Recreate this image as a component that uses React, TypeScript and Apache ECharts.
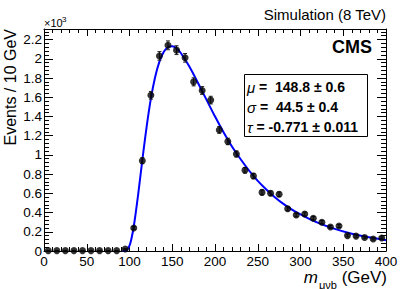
import React, { useEffect, useRef } from 'react';
import * as echarts from 'echarts';

// bin centres (GeV) and events per bin (x10^3)
const binCenters = [5, 15, 25, 35, 45, 55, 65, 75, 85, 95, 105, 115, 125, 135, 145, 155, 165, 175, 185, 195, 205, 215, 225, 235, 245, 255, 265, 275, 285, 295, 305, 315, 325, 335, 345, 355, 365, 375, 385, 395];
const eventsK = [0.004, 0.004, 0.004, 0.004, 0.004, 0.004, 0.004, 0.004, 0.004, 0.02, 0.24, 0.94, 1.62, 2.03, 2.14, 2.09, 2.01, 1.76, 1.67, 1.57, 1.26, 1.14, 1.01, 0.84, 0.78, 0.61, 0.60, 0.59, 0.44, 0.375, 0.385, 0.34, 0.30, 0.25, 0.26, 0.16, 0.155, 0.14, 0.125, 0.135];
const eventsErrK = [0.002, 0.002, 0.002, 0.002, 0.002, 0.002, 0.002, 0.002, 0.002, 0.005, 0.015, 0.031, 0.040, 0.045, 0.046, 0.046, 0.045, 0.042, 0.041, 0.040, 0.035, 0.034, 0.032, 0.029, 0.028, 0.025, 0.024, 0.024, 0.021, 0.019, 0.020, 0.018, 0.017, 0.016, 0.016, 0.013, 0.012, 0.012, 0.011, 0.012];

// fitted curve
const fitX = [92, 95, 97, 100, 102, 105, 110, 115, 120, 125, 130, 135, 140, 145, 150, 155, 160, 170, 180, 190, 200, 210, 220, 230, 240, 250, 260, 270, 280, 290, 300, 320, 340, 360, 380, 400];
const fitY = [0, 0.002, 0.01, 0.055, 0.118, 0.255, 0.58, 0.945, 1.29, 1.585, 1.81, 1.97, 2.07, 2.12, 2.13, 2.11, 2.06, 1.92, 1.75, 1.575, 1.40, 1.235, 1.085, 0.955, 0.835, 0.73, 0.64, 0.56, 0.49, 0.43, 0.38, 0.295, 0.23, 0.18, 0.142, 0.113];

const fitRows = [
  { sym: 'μ', text: ' =  148.8 ± 0.6' },
  { sym: 'σ', text: ' =  44.5 ± 0.4' },
  { sym: 'τ', text: ' = -0.771 ± 0.011' },
];

const FONT = '"Liberation Sans", Arial, Helvetica, sans-serif';

export default function App() {
  const ref = useRef<HTMLDivElement>(null);
  useEffect(() => {
    document.body.style.margin = '0';
    const chart = echarts.init(ref.current!, null, { renderer: 'svg' });

    const xBase = {
      type: 'value' as const,
      min: 0,
      max: 400,
      interval: 50,
      axisLine: { show: true, onZero: false, lineStyle: { color: '#000', width: 1 } },
      axisTick: { show: true, inside: true, length: 7, lineStyle: { color: '#000' } },
      minorTick: { show: true, splitNumber: 5, length: 4, lineStyle: { color: '#000' } },
      splitLine: { show: false },
    };
    const yBase = {
      type: 'value' as const,
      min: 0,
      max: 2.31,
      interval: 0.2,
      axisLine: { show: true, onZero: false, lineStyle: { color: '#000', width: 1 } },
      axisTick: { show: true, inside: true, length: 9, lineStyle: { color: '#000' } },
      minorTick: { show: true, splitNumber: 5, length: 5, lineStyle: { color: '#000' } },
      splitLine: { show: false },
    };

    const graphics: any[] = [
      {
        type: 'text', x: 44, y: 28,
        style: { text: '×10', fontSize: 11, fontFamily: FONT, fill: '#000', align: 'left', verticalAlign: 'bottom', textAlign: 'left', textVerticalAlign: 'bottom' },
      },
      {
        type: 'text', x: 62, y: 23,
        style: { text: '3', fontSize: 8, fontFamily: FONT, fill: '#000', align: 'left', verticalAlign: 'bottom', textAlign: 'left', textVerticalAlign: 'bottom' },
      },
      {
        type: 'text', x: 10, y: 29, rotation: Math.PI / 2,
        style: { text: 'Events / 10 GeV', fontSize: 16, fontFamily: FONT, fill: '#000', align: 'right', verticalAlign: 'middle', textAlign: 'right', textVerticalAlign: 'middle' },
      },
      {
        type: 'text', x: 387, y: 277,
        style: {
          text: '{m|m}{s|μνb}{n| (GeV)}', fontFamily: FONT, fill: '#000', align: 'right', verticalAlign: 'middle', textAlign: 'right', textVerticalAlign: 'middle',
          rich: {
            m: { fontSize: 17, fontStyle: 'italic', fontFamily: FONT, fill: '#000', verticalAlign: 'bottom', lineHeight: 18 },
            s: { fontSize: 11, fontFamily: FONT, fill: '#000', verticalAlign: 'bottom', padding: [0, 0, -4, 1], lineHeight: 18 },
            n: { fontSize: 17, fontFamily: FONT, fill: '#000', verticalAlign: 'bottom', lineHeight: 18 },
          },
        },
      },
      {
        type: 'text', x: 386, y: 14,
        style: { text: 'Simulation (8 TeV)', fontSize: 15, fontFamily: FONT, fill: '#000', align: 'right', verticalAlign: 'middle', textAlign: 'right', textVerticalAlign: 'middle' },
      },
      {
        type: 'text', x: 372, y: 47,
        style: { text: 'CMS', fontSize: 18, fontWeight: 'bold', fontFamily: FONT, fill: '#000', align: 'right', verticalAlign: 'middle', textAlign: 'right', textVerticalAlign: 'middle' },
      },
      {
        type: 'rect', shape: { x: 244.5, y: 74.5, width: 123, height: 62 },
        style: { fill: '#fff', stroke: '#000', lineWidth: 1 },
      },
    ];
    fitRows.forEach((r, i) => {
      graphics.push({
        type: 'text', x: 247, y: 87 + i * 20,
        style: {
          text: `{i|${r.sym}}{b|${r.text}}`, fontFamily: FONT, fill: '#000', align: 'left', verticalAlign: 'middle', textAlign: 'left', textVerticalAlign: 'middle',
          rich: {
            i: { fontSize: 15, fontStyle: 'italic', fontFamily: FONT, fill: '#000' },
            b: { fontSize: 14, fontWeight: 'bold', fontFamily: FONT, fill: '#000' },
          },
        },
      });
    });

    chart.setOption({
      animation: false,
      backgroundColor: '#fff',
      grid: { left: 44, right: 21, top: 29, bottom: 38, containLabel: false },
      xAxis: [
        { ...xBase, position: 'bottom', axisLabel: { show: true, fontSize: 13.5, fontFamily: FONT, color: '#000', margin: 3 } },
        { ...xBase, position: 'top', axisLabel: { show: false } },
      ],
      yAxis: [
        {
          ...yBase, position: 'left',
          axisLabel: {
            show: true, fontSize: 13.5, fontFamily: FONT, color: '#000', margin: 2, showMaxLabel: false,
            formatter: (v: number) => (Math.abs(v * 5 - Math.round(v * 5)) < 1e-6 ? String(+v.toFixed(1)) : ''),
          },
        },
        { ...yBase, position: 'right', axisLabel: { show: false } },
      ],
      graphic: graphics,
      series: [
        {
          type: 'line',
          xAxisIndex: 0, yAxisIndex: 0,
          data: fitX.map((x, i) => [x, fitY[i]]),
          smooth: 0.4,
          showSymbol: false,
          symbol: 'none',
          lineStyle: { color: '#0000ff', width: 2 },
          z: 3,
        },
        {
          type: 'custom',
          xAxisIndex: 0, yAxisIndex: 0,
          data: binCenters.map((x, i) => [x, eventsK[i], eventsErrK[i]]),
          encode: { x: 0, y: 1 },
          renderItem: (_p: any, api: any) => {
            const x = api.value(0), y = api.value(1), e = api.value(2);
            const t = api.coord([x, y + e]);
            const b = api.coord([x, y - e]);
            const c = 2;
            const st = { stroke: '#222', lineWidth: 1 };
            return {
              type: 'group',
              children: [
                { type: 'line', shape: { x1: t[0], y1: t[1], x2: b[0], y2: b[1] }, style: st },
                { type: 'line', shape: { x1: t[0] - c, y1: t[1], x2: t[0] + c, y2: t[1] }, style: st },
                { type: 'line', shape: { x1: b[0] - c, y1: b[1], x2: b[0] + c, y2: b[1] }, style: st },
              ],
            };
          },
          z: 4,
        },
        {
          type: 'scatter',
          xAxisIndex: 0, yAxisIndex: 0,
          data: binCenters.map((x, i) => [x, eventsK[i]]),
          symbol: 'circle',
          symbolSize: 7,
          itemStyle: { color: '#000' },
          z: 5,
        },
      ],
    });
    return () => chart.dispose();
  }, []);
  return <div ref={ref} style={{ width: 407, height: 289 }} />;
}
